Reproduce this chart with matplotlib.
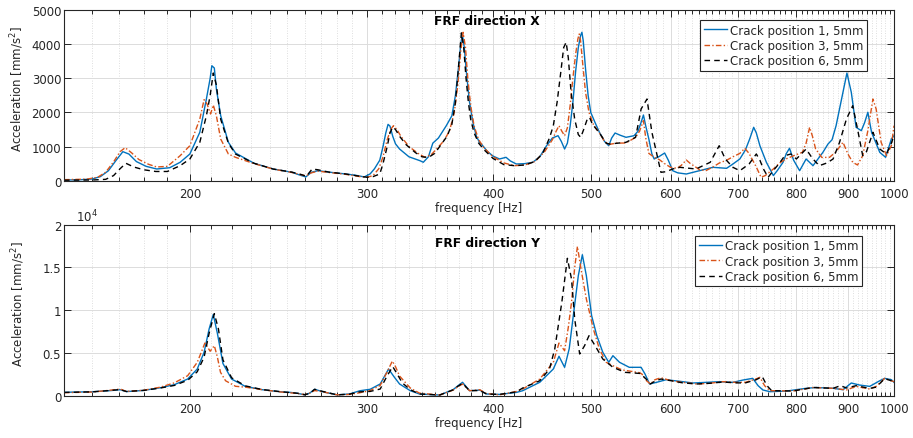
import matplotlib
matplotlib.use('Agg')
import matplotlib.pyplot as plt
from matplotlib.ticker import FixedLocator, NullFormatter

plt.rcParams['font.family'] = ['DejaVu Sans']

series_labels = ['Crack position 1, 5mm', 'Crack position 3, 5mm', 'Crack position 6, 5mm']
x_major = [200, 300, 400, 500, 600, 700, 800, 900, 1000]
x_major_labels = ['200', '300', '400', '500', '600', '700', '800', '900', '1000']
top_yticks = [0, 1000, 2000, 3000, 4000, 5000]
bot_yticks = [0, 5000, 10000, 15000, 20000]
bot_ytick_labels = ['0', '0.5', '1', '1.5', '2']

# ---------- FRF direction X (frequency Hz, acceleration mm/s^2) ----------
frf_x_pos1 = [(150, 20), (155, 25), (160, 50), (163, 120), (166, 290), (169, 600), (171.6, 850),
    (174, 780), (177, 560), (181, 420), (185.4, 343), (191, 380), (195.6, 539), (200, 782),
    (204.6, 1418), (207.7, 2393), (209.5, 3000), (210.3, 3368), (211.5, 3300), (212.5, 2686),
    (214.6, 1904), (218.4, 1125), (222, 811), (231.6, 510), (242, 343), (252.6, 246), (257, 167),
    (260.7, 110), (264, 246), (268, 293), (275, 250), (285, 200), (292, 160), (298, 110),
    (302, 200), (305, 350), (308.7, 600), (311, 1000), (313, 1400), (314.6, 1650), (316, 1600),
    (318, 1300), (320, 1080), (323, 928), (330, 700), (338.4, 586), (341, 540), (345, 700),
    (348.5, 1100), (353, 1250), (359.4, 1611), (364, 1900), (367, 2500), (369.5, 3300),
    (371.5, 4000), (372.8, 4297), (374.5, 3900), (376.5, 3100), (379, 2300), (382, 1700),
    (385, 1300), (387.7, 1125), (390, 1050), (395, 850), (400, 720), (405.9, 636), (412, 685),
    (416, 580), (421.8, 489), (430, 500), (438, 540), (445, 700), (452, 1025), (458, 1250),
    (464, 1318), (467.5, 1150), (471, 928), (474, 1100), (477, 1600), (480, 2300), (483, 3200),
    (486, 3900), (488.5, 4250), (490, 4347), (491.5, 4100), (494, 3300), (497, 2500),
    (500, 2000), (505, 1700), (510, 1418), (516, 1150), (521, 1025), (524.5, 1250),
    (528.6, 1397), (535, 1330), (542, 1271), (552, 1318), (557, 1450), (561, 1710), (564, 1924),
    (567, 1600), (571, 1221), (575, 782), (578, 636), (584, 700), (592, 811), (597, 600),
    (603, 293), (610, 230), (622, 196), (641, 293), (661, 392), (682, 363), (692, 489),
    (703, 636), (712, 900), (719, 1221), (725.6, 1564), (730, 1400), (736, 1025), (747, 539),
    (759, 150), (766, 300), (776, 539), (782, 800), (787.5, 949), (795, 600), (806, 293),
    (818, 636), (831, 440), (850, 831), (860, 1075), (868, 1200), (876, 1611), (890, 2590),
    (898, 3154), (907, 2590), (917, 1564), (928, 1465), (935, 1700), (942, 2003), (950, 1418),
    (968, 831), (981, 685), (994, 1221), (1000, 1318)]

frf_x_pos3 = [(150, 30), (158, 45), (162, 100), (165, 250), (168, 550), (170.5, 850),
    (172.5, 967), (175, 820), (178, 620), (182, 480), (185.4, 402), (190, 420), (195.6, 732),
    (200, 1025), (204.6, 1807), (206.6, 2373), (208, 2250), (209.7, 1954), (211, 2217),
    (212.5, 1900), (214.6, 1221), (218.4, 782), (222, 685), (231.6, 500), (242, 340),
    (252.6, 240), (260.7, 140), (264, 230), (268, 280), (275, 240), (285, 190), (295, 120),
    (300, 100), (304, 150), (308, 350), (311, 700), (314, 1200), (316.5, 1500), (318.5, 1611),
    (321, 1500), (324, 1300), (330, 1000), (337, 800), (342, 690), (347, 750), (352, 950),
    (357, 1150), (362, 1450), (366, 2000), (369, 2800), (371.5, 3800), (373.5, 4347),
    (375.5, 3900), (377.5, 3000), (380, 2200), (383, 1600), (387, 1200), (392, 950), (400, 700),
    (410, 520), (420, 440), (430, 460), (440, 560), (450, 850), (458, 1200), (462, 1450),
    (465, 1611), (468, 1450), (471, 1318), (474, 1550), (477, 2200), (480, 3000), (483, 3700),
    (485.5, 4150), (487, 4297), (488.5, 4100), (491, 3400), (494, 2600), (498, 2000),
    (503, 1650), (510, 1400), (516, 1150), (521, 1060), (530, 1100), (542, 1104), (554, 1271),
    (559, 1450), (564, 1757), (567, 1250), (571, 800), (578, 685), (585, 615), (592, 500),
    (600, 392), (609, 363), (615, 450), (622, 606), (628, 500), (634, 422), (641, 322),
    (651, 300), (661, 400), (671, 520), (682, 600), (692, 700), (703, 800), (711, 949),
    (718, 800), (724, 600), (730, 400), (738, 100), (745, 150), (759, 343), (770, 520),
    (781, 636), (795, 732), (811, 831), (818, 1100), (824.6, 1564), (830, 1300), (836, 928),
    (848, 680), (863, 685), (876, 850), (890, 1125), (900, 782), (910, 539), (920, 460),
    (931, 732), (942, 1465), (953, 2393), (960, 2100), (971, 1125), (983, 732), (994, 1025),
    (1000, 1611)]

frf_x_pos6 = [(150, 15), (160, 20), (165, 40), (168, 150), (170.5, 350), (172.8, 510),
    (176, 400), (180, 320), (185, 270), (190, 270), (195.6, 440), (200, 636), (204.6, 1125),
    (207.7, 1904), (209.5, 2500), (211, 3154), (212.5, 2800), (214.6, 1800), (218.4, 1100),
    (222, 780), (231.6, 510), (242, 340), (252.6, 250), (258, 180), (261, 130), (264.5, 343),
    (268, 320), (275, 250), (285, 200), (295, 130), (300, 100), (304, 120), (308.7, 196),
    (311, 500), (314, 1000), (316, 1400), (318, 1570), (320, 1500), (323, 1300), (328, 1050),
    (335, 820), (340, 700), (345, 680), (350, 800), (355, 1050), (360, 1300), (364, 1650),
    (367, 2300), (369.5, 3300), (372, 4330), (374, 3900), (376, 3000), (378, 2300), (380, 1800),
    (383, 1400), (387, 1100), (392, 900), (400, 650), (410, 470), (420, 440), (430, 460),
    (440, 560), (448, 800), (455, 1250), (459, 1611), (463, 2300), (467, 3200), (470, 3900),
    (472.7, 4054), (475, 3600), (478, 2600), (482, 1800), (486, 1350), (488.7, 1271),
    (492, 1500), (496, 1800), (498.6, 1857), (502, 1650), (510, 1400), (518, 1100), (522, 1075),
    (542, 1125), (554, 1271), (561, 2100), (568.6, 2393), (575, 1418), (583, 636), (587, 246),
    (594, 264), (603, 343), (613, 392), (636, 343), (657, 539), (670.6, 1025), (680, 636),
    (692, 392), (703, 293), (718, 489), (730, 782), (736, 600), (742, 343), (750, 100),
    (759, 300), (770, 520), (779, 732), (790, 782), (800, 636), (818, 928), (830, 650),
    (843, 440), (858, 520), (870, 636), (883, 1125), (897, 1807), (910, 2197), (920, 1514),
    (931, 732), (939, 850), (953, 1418), (968, 928), (983, 782), (994, 1100), (1000, 1318)]

# ---------- FRF direction Y ----------
frf_y_pos1 = [(150, 400), (160, 460), (167, 600), (170.5, 700), (173, 480), (180, 620),
    (187, 935), (193, 1286), (199, 1950), (203.4, 3118), (206.6, 5068), (209, 7800),
    (211, 9500), (213, 7275), (215.7, 3770), (220, 1950), (227, 1090), (236, 702), (246, 460),
    (252, 380), (256, 272), (260, 100), (263, 300), (266, 750), (271, 460), (280, 100),
    (288, 200), (295, 580), (302, 750), (309, 1370), (315, 3120), (319, 2200), (323, 1368),
    (331, 585), (338, 200), (354, 80), (365, 702), (369, 1150), (373, 1567), (379, 585),
    (388, 660), (394, 200), (406, 150), (422, 390), (428, 585), (445, 1567), (459, 3120),
    (465, 4608), (471, 3320), (476, 5500), (480, 8970), (486, 14035), (490.5, 16490),
    (495, 14035), (501, 9357), (507, 7018), (514, 5076), (521, 3906), (526, 4678), (534, 3906),
    (546, 3320), (561, 3320), (566, 2540), (572, 1370), (581, 1560), (594, 1870), (613, 1680),
    (632, 1485), (651, 1560), (671, 1640), (692, 1560), (708, 1830), (724, 2030), (733, 1170),
    (741, 670), (753, 470), (782, 540), (818, 865), (837, 960), (870, 865), (890, 700),
    (907, 1485), (924, 1250), (946, 1090), (968, 1750), (979, 2030), (994, 1870), (1000, 1560)]

frf_y_pos3 = [(150, 350), (160, 430), (167, 650), (170.5, 780), (173, 500), (180, 640),
    (187, 1000), (193, 1500), (199, 2340), (203.4, 3900), (207, 6160), (209.5, 5200),
    (211.5, 5850), (213, 4500), (214.5, 2740), (217, 1750), (222, 1100), (227, 1000),
    (236, 702), (246, 440), (256, 260), (260, 120), (263, 300), (266, 600), (271, 450),
    (280, 100), (288, 150), (295, 350), (302, 600), (309, 1200), (314, 2800), (317.7, 4050),
    (320, 3400), (323, 2300), (331, 900), (338, 300), (354, 80), (365, 650), (369, 1050),
    (373, 1368), (379, 585), (388, 700), (394, 250), (406, 100), (422, 500), (428, 780),
    (445, 1950), (459, 3906), (465, 6160), (471, 5263), (475, 8000), (478.5, 10920),
    (482, 15000), (485, 17450), (489, 14820), (495, 11310), (503, 7800), (510, 5460),
    (518, 3906), (526, 3510), (537, 3020), (559, 2690), (562, 2540), (568, 1750), (573, 1370),
    (579, 1870), (587, 2100), (601, 1750), (617, 1560), (637, 1370), (656, 1450), (676, 1640),
    (697, 1560), (712, 1560), (729, 1950), (736, 2150), (744, 1170), (753, 590), (794, 550),
    (831, 960), (870, 865), (897, 670), (917, 1090), (946, 780), (960, 1090), (979, 2030),
    (1000, 1640)]

frf_y_pos6 = [(150, 380), (160, 450), (167, 620), (170.5, 720), (173, 490), (180, 620),
    (187, 900), (193, 1200), (199, 1800), (203.4, 2800), (206.6, 4500), (209, 7300),
    (211.5, 9600), (213.5, 7800), (215.7, 4200), (220, 2100), (227, 1150), (236, 720),
    (246, 470), (256, 280), (260, 120), (263, 250), (266, 750), (271, 500), (280, 100),
    (288, 180), (295, 450), (302, 500), (309, 780), (314, 2340), (318, 3400), (321, 2600),
    (325, 1500), (331, 700), (338, 200), (354, 80), (365, 680), (369, 1100), (373, 1450),
    (379, 585), (388, 600), (394, 200), (406, 150), (422, 450), (428, 900), (445, 1750),
    (455, 3120), (460.5, 5458), (468, 10920), (474, 16070), (478.5, 13640), (482, 8970),
    (487.5, 4880), (493, 5850), (498, 7020), (505, 5850), (514, 4290), (526, 3320),
    (541, 2730), (560, 2600), (568, 1900), (573, 1370), (579, 1700), (587, 1950), (601, 1750),
    (617, 1500), (637, 1370), (656, 1450), (676, 1600), (697, 1500), (712, 1500), (729, 1850),
    (740, 2230), (748, 1170), (756, 590), (794, 550), (831, 960), (870, 865), (885, 1170),
    (897, 900), (917, 1170), (946, 850), (960, 1000), (979, 2000), (1000, 1640)]

colors = ['#0072BD', '#D95319', '#000000']
styles = [dict(linestyle='-'),
          dict(linestyle=(0, (4, 1.6, 1, 1.6))),
          dict(linestyle=(0, (4, 3)))]

W, H = 913, 439
fig = plt.figure(figsize=(W / 100, H / 100), dpi=100)
ax_top = fig.add_axes([64 / W, 1 - 181.7 / H, 830 / W, 170.7 / H])
ax_bot = fig.add_axes([64 / W, 1 - 396.7 / H, 830 / W, 171 / H])

axc = '#262626'
fs = 8.5


def style_axis(ax):
    ax.set_xscale('log')
    ax.set_xlim(150, 1000)
    ax.xaxis.set_major_locator(FixedLocator(x_major))
    ax.set_xticklabels(x_major_labels)
    minors = [f for f in range(150, 1000, 10) if f not in x_major]
    ax.xaxis.set_minor_locator(FixedLocator(minors))
    ax.xaxis.set_minor_formatter(NullFormatter())
    ax.grid(True, which='major', color='#dcdcdc', lw=0.7, ls='-')
    ax.grid(True, which='minor', axis='x', color='#d4d4d4', lw=0.6, ls=(0, (1, 2)))
    ax.set_axisbelow(True)
    ax.tick_params(which='both', direction='in', top=True, right=True, colors=axc,
                   labelcolor=axc, labelsize=fs, width=0.7)
    ax.tick_params(which='major', length=5)
    ax.tick_params(which='minor', length=3)
    ax.tick_params(axis='x', pad=4.5)
    ax.tick_params(axis='y', pad=2)
    for s in ax.spines.values():
        s.set_color(axc)
        s.set_linewidth(0.8)
    ax.set_xlabel('frequency [Hz]', fontsize=fs, color=axc, labelpad=0.5)
    ax.set_ylabel('Acceleration [mm/s$^2$]', fontsize=fs, color=axc)


for ax, data, title, ty, leg_anchor in [
        (ax_top, [frf_x_pos1, frf_x_pos3, frf_x_pos6], 'FRF direction X', 0.937, (0.967, 0.941)),
        (ax_bot, [frf_y_pos1, frf_y_pos3, frf_y_pos6], 'FRF direction Y', 0.897, (0.961, 0.936))]:
    style_axis(ax)
    for d, c, st, lab in zip(data, colors, styles, series_labels):
        f, a = zip(*d)
        ax.plot(f, a, color=c, lw=1.0, label=lab, **st)
    ax.text(0.51, ty, title, transform=ax.transAxes, ha='center', va='center',
            fontsize=8.8, fontweight='bold', color='black')
    leg = ax.legend(loc='upper right', bbox_to_anchor=leg_anchor, fontsize=fs,
                    frameon=True, fancybox=False, framealpha=1, edgecolor=axc,
                    borderpad=0.3, labelspacing=0.2, handlelength=2.0,
                    handletextpad=0.2, borderaxespad=0)
    leg.get_frame().set_linewidth(0.8)
    for t in leg.get_texts():
        t.set_color(axc)

ax_top.set_ylim(0, 5000)
ax_top.set_yticks(top_yticks)
ax_bot.set_ylim(0, 20000)
ax_bot.set_yticks(bot_yticks)
ax_bot.set_yticklabels(bot_ytick_labels)
ax_bot.text(0.015, 1.003, r'10$^4$', transform=ax_bot.transAxes, ha='left', va='bottom',
            fontsize=fs, color=axc)

ax_top.yaxis.set_label_coords(-0.046, 0.54)
ax_bot.yaxis.set_label_coords(-0.045, 0.54)

fig.savefig('out.png', dpi=100)
